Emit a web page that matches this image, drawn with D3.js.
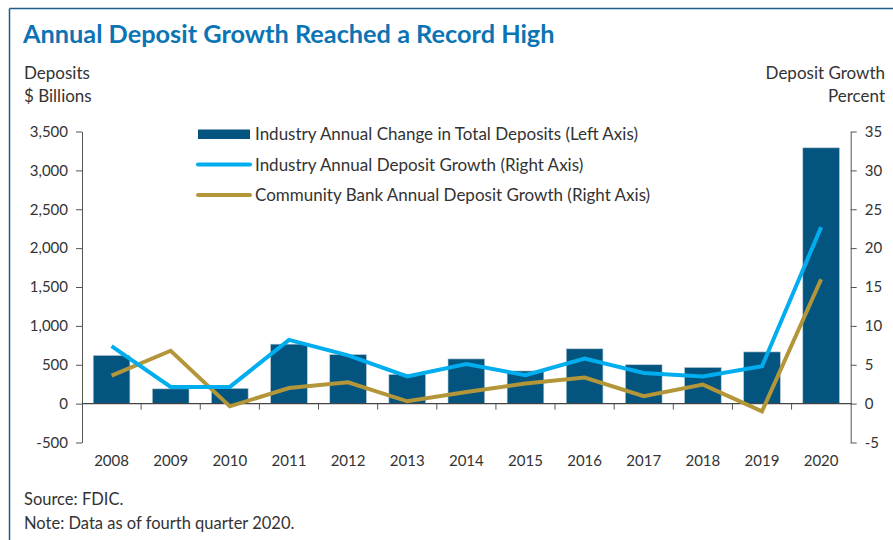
<!DOCTYPE html>
<html>
<head>
<meta charset="utf-8">
<script src="https://cdn.jsdelivr.net/npm/d3@7"></script>
<style>
  body { margin: 0; background: #fff; }
  svg { display: block; font-family: Lato, "Open Sans", sans-serif; }
  .axis text { font-size: 15px; fill: #333; font-family: Lato, sans-serif; }
  .axis path, .axis line { stroke: #555; }
</style>
</head>
<body>
<div id="chart"></div>
<script>
// données
var annees = ["2008", "2009", "2010", "2011", "2012", "2013", "2014", "2015", "2016", "2017", "2018", "2019", "2020"];
var variationDepots = [620, 190, 195, 765, 630, 375, 575, 420, 705, 500, 465, 665, 3290];
var croissanceIndustrie = [7.4, 2.15, 2.15, 8.2, 6.2, 3.5, 5.1, 3.65, 5.8, 3.95, 3.5, 4.8, 22.7];
var croissanceCommunautaire = [3.6, 6.8, -0.35, 2.0, 2.75, 0.3, 1.5, 2.6, 3.35, 0.95, 2.45, -1.0, 16.0];
var ticksGauche = [-500, 0, 500, 1000, 1500, 2000, 2500, 3000, 3500];
var ticksDroite = [-5, 0, 5, 10, 15, 20, 25, 30, 35];
var legende = [
    "Industry Annual Change in Total Deposits (Left Axis)",
    "Industry Annual Deposit Growth (Right Axis)",
    "Community Bank Annual Deposit Growth (Right Axis)"
];

const width = 893;
const height = 540;
const couleurBarre = "#03557f";
const couleurBleu = "#00aeef";
const couleurOr = "#b4963a";

// tiret simple pour les négatifs, comme l'original
const formatGauche = d => d3.format(",")(d).replace("−", "-");
const formatDroite = d => String(d);

const svg = d3.select("#chart").append("svg")
    .attr("width", width)
    .attr("height", height);

// cadre
svg.append("line").attr("x1", 9.5).attr("x2", width).attr("y1", 8.5).attr("y2", 8.5)
    .attr("stroke", "#1d5f8a").attr("stroke-width", 1.5);
svg.append("line").attr("x1", 9.5).attr("x2", 9.5).attr("y1", 8.5).attr("y2", height)
    .attr("stroke", "#1d5f8a").attr("stroke-width", 1.5);

// titre
svg.append("text")
    .attr("x", 23).attr("y", 43)
    .attr("fill", "#0b74b5")
    .style("font-size", "25.3px")
    .style("font-weight", "bold")
    .text("Annual Deposit Growth Reached a Record High");

// titres des axes
const titres = svg.append("g").style("font-size", "17px").attr("fill", "#333");
titres.append("text").attr("x", 24).attr("y", 79).text("Deposits");
titres.append("text").attr("x", 24).attr("y", 102).text("$ Billions");
titres.append("text").attr("x", 885).attr("y", 79).attr("text-anchor", "end").text("Deposit Growth");
titres.append("text").attr("x", 885).attr("y", 102).attr("text-anchor", "end").text("Percent");

// échelles
const gauche = 82, droite = 850.7;
const x = d3.scaleBand().domain(annees).range([gauche, droite]).paddingInner(0.38).paddingOuter(0.19);
const yG = d3.scaleLinear().domain([-500, 3500]).range([442.5, 131.5]);
const yD = d3.scaleLinear().domain([-5, 35]).range([442.5, 131.5]);
const pas = x.step();

// barres
svg.append("g").selectAll("rect")
    .data(annees)
    .enter().append("rect")
    .attr("x", d => x(d))
    .attr("width", x.bandwidth())
    .attr("y", (d, i) => yG(Math.max(0, variationDepots[i])))
    .attr("height", (d, i) => Math.abs(yG(variationDepots[i]) - yG(0)))
    .attr("fill", couleurBarre)
    .attr("stroke", "#b8c6d0")
    .attr("stroke-width", 0.6);

// axe gauche
svg.append("g")
    .attr("class", "axis")
    .attr("transform", `translate(${gauche},0)`)
    .call(d3.axisLeft(yG).tickValues(ticksGauche).tickFormat(formatGauche).tickSize(6).tickSizeOuter(0).tickPadding(8));

// axe droit
svg.append("g")
    .attr("class", "axis")
    .attr("transform", `translate(${droite},0)`)
    .call(d3.axisRight(yD).tickValues(ticksDroite).tickFormat(formatDroite).tickSize(6).tickSizeOuter(0).tickPadding(8));

// ligne zéro + graduations des catégories
svg.append("line")
    .attr("x1", gauche).attr("x2", droite + 1)
    .attr("y1", yG(0)).attr("y2", yG(0))
    .attr("stroke", "#444").attr("stroke-width", 1.3);

svg.append("g").selectAll("line")
    .data(annees.slice(1))
    .enter().append("line")
    .attr("x1", d => x(d) - pas * 0.19).attr("x2", d => x(d) - pas * 0.19)
    .attr("y1", yG(0)).attr("y2", yG(0) + 6)
    .attr("stroke", "#555");

// étiquettes des années
svg.append("g").selectAll("text")
    .data(annees)
    .enter().append("text")
    .attr("x", d => x(d) + x.bandwidth() / 2)
    .attr("y", 466)
    .attr("text-anchor", "middle")
    .attr("fill", "#333")
    .style("font-size", "15px")
    .text(d => d);

// lignes
const ligne = d3.line()
    .x((d, i) => x(annees[i]) + x.bandwidth() / 2)
    .y(d => yD(d));

svg.append("path")
    .datum(croissanceCommunautaire)
    .attr("d", ligne)
    .attr("fill", "none")
    .attr("stroke", couleurOr)
    .attr("stroke-width", 4);

svg.append("path")
    .datum(croissanceIndustrie)
    .attr("d", ligne)
    .attr("fill", "none")
    .attr("stroke", couleurBleu)
    .attr("stroke-width", 4);

// légende
const leg = svg.append("g");
leg.append("rect").attr("x", 198).attr("y", 129.5).attr("width", 52).attr("height", 9.5).attr("fill", couleurBarre);
leg.append("line").attr("x1", 198).attr("x2", 250).attr("y1", 164.5).attr("y2", 164.5)
    .attr("stroke", couleurBleu).attr("stroke-width", 4).attr("stroke-linecap", "round");
leg.append("line").attr("x1", 198).attr("x2", 250).attr("y1", 195).attr("y2", 195)
    .attr("stroke", couleurOr).attr("stroke-width", 4).attr("stroke-linecap", "round");
leg.selectAll("text")
    .data(legende)
    .enter().append("text")
    .attr("x", 255)
    .attr("y", (d, i) => 140 + i * 30.5)
    .attr("fill", "#333")
    .style("font-size", "17px")
    .text(d => d);

// sources
const notes = svg.append("g").style("font-size", "16.5px").attr("fill", "#333");
notes.append("text").attr("x", 24).attr("y", 505).text("Source: FDIC.");
notes.append("text").attr("x", 24).attr("y", 529).text("Note: Data as of fourth quarter 2020.");
</script>
</body>
</html>
